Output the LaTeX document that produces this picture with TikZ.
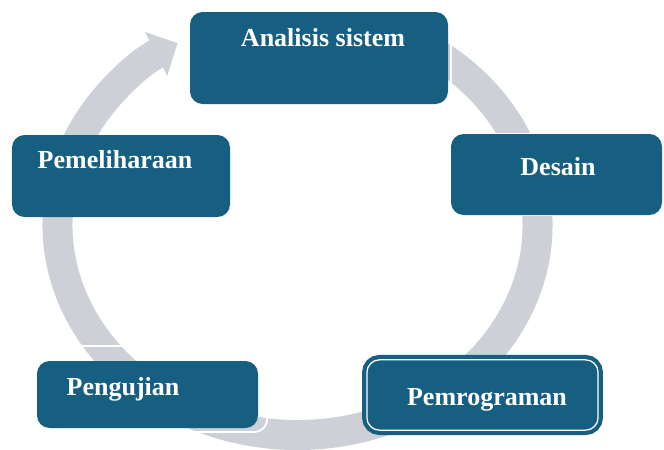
\documentclass[tikz,border=0pt]{standalone}
\usepackage{fontspec}
\setmainfont{Liberation Serif}
\usepackage{tikz}
\usetikzlibrary{arrows.meta,positioning}
\definecolor{stageblue}{RGB}{22,95,128}
\definecolor{ringgray}{RGB}{205,209,215}
\tikzset{
	stage/.style={fill=stageblue,rectangle,rounded corners=9pt,inner sep=0pt},
	whiteframe/.style={draw=white,line width=1.3pt,rectangle,rounded corners=9pt,inner sep=0pt},
	caption/.style={text=white,font=\bfseries\fontsize{18.5}{22}\selectfont,inner sep=0pt},
	ring/.style={draw=ringgray,line width=0.75cm,-{Triangle[width=1.2cm,length=0.6cm]}}
}

\begin{document}
\begin{tikzpicture}
            \useasboundingbox[fill=white] (0,0) rectangle (16.6,-11.225);
            \coordinate (c) at (7.4375,-5.625);
            % the cycle arrow
            \draw[ring] (c) ++(60:6cm and 5.25cm)
                arc[start angle=60, end angle=-240, x radius=6cm, y radius=5.25cm];
            % white outlines round some boxes
            \node[whiteframe,minimum width=6.45cm,minimum height=2.3cm] (f-analisis) at (8.05,-1.45) {};
            \node[whiteframe,minimum width=5.275cm,minimum height=2.025cm] (f-desain) at (13.99,-4.3625) {};
            \node[whiteframe,minimum width=5.975cm,minimum height=2.15cm] (f-pengujian) at (3.69,-9.725) {};
            % the stages
            \node[stage,minimum width=6.45cm,minimum height=2.3cm] (analisis) at (7.975,-1.45) {};
            \node[stage,minimum width=5.275cm,minimum height=2.025cm] (desain) at (13.9125,-4.3625) {};
            \node[stage,draw=stageblue,double=white,double distance=0.9pt,line width=3pt,
                  minimum width=5.78cm,minimum height=1.76cm] (pemrograman) at (12.0625,-9.875) {};
            \node[stage,minimum width=5.525cm,minimum height=1.675cm] (pengujian) at (3.6875,-9.8625) {};
            \node[stage,minimum width=5.45cm,minimum height=2.05cm] (pemeliharaan) at (3.025,-4.4) {};
            % their texts
            \node[caption] (t-analisis) at (8.075,-0.95) {Analisis sistem};
            \node[caption] (t-desain) at (13.95,-4.175) {Desain};
            \node[caption] (t-pemrograman) at (12.175,-10.0) {Pemrograman};
            \node[caption] (t-pengujian) at (3.075,-9.725) {Pengujian};
            \node[caption] (t-pemeliharaan) at (2.875,-4.0) {Pemeliharaan};
        \end{tikzpicture}
\end{document}
